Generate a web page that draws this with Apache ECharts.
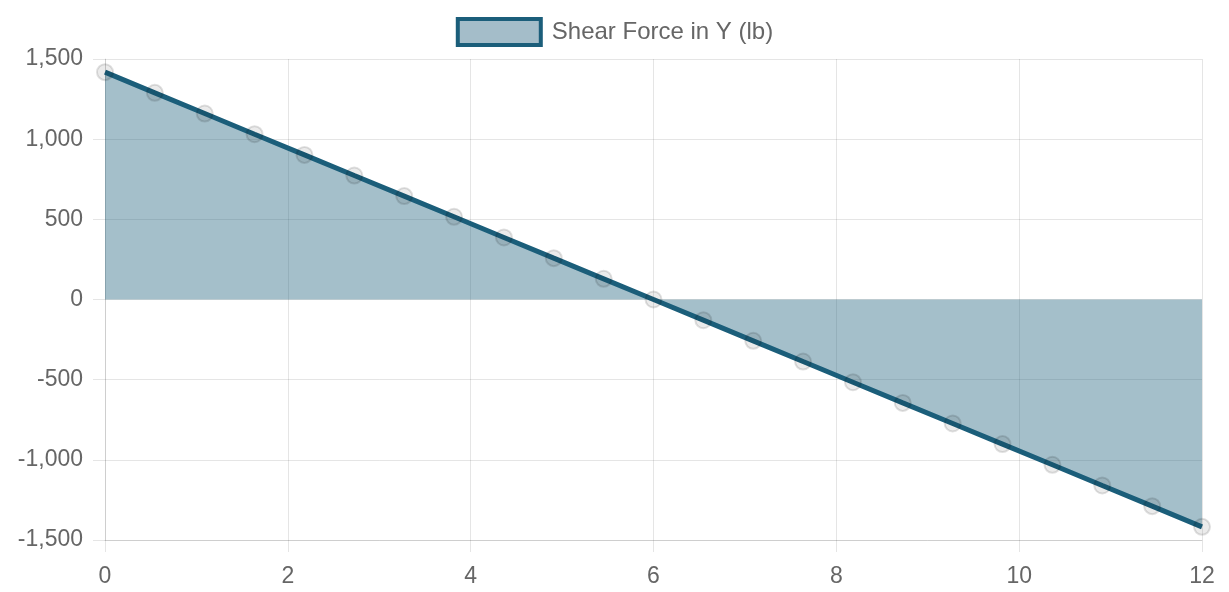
<!DOCTYPE html>
<html>
<head>
<meta charset="utf-8">
<script src="https://cdn.jsdelivr.net/npm/echarts@6/dist/echarts.min.js"></script>
<style>
html,body{margin:0;padding:0;background:#fff;}
#chart{width:1229px;height:592px;}
</style>
</head>
<body>
<div id="chart"></div>
<script>
const seriesName = 'Shear Force in Y (lb)';
const xValues = [0, 0.545, 1.091, 1.636, 2.182, 2.727, 3.273, 3.818, 4.364, 4.909, 5.455, 6, 6.545, 7.091, 7.636, 8.182, 8.727, 9.273, 9.818, 10.364, 10.909, 11.455, 12];
const shearValues = [1418, 1289, 1160, 1031, 902, 773, 645, 516, 387, 258, 129, 0, -129, -258, -387, -516, -645, -773, -902, -1031, -1160, -1289, -1418];

const lineColor = '#1b5e7a';
const fillColor = 'rgba(27,94,122,0.4)';
const gridColor = 'rgba(0,0,0,0.1)';
const textColor = '#666';
const fontFamily = '"Liberation Sans", Arial, Helvetica, sans-serif';

const chart = echarts.init(document.getElementById('chart'), null, {renderer: 'canvas'});
chart.setOption({
  animation: false,
  textStyle: {fontFamily: fontFamily},
  legend: {
    top: 12,
    left: 'center',
    itemWidth: 83,
    itemHeight: 26,
    textStyle: {color: textColor, fontSize: 24, fontFamily: fontFamily, padding: [0, 0, 0, 6]},
    data: [{
      name: seriesName,
      icon: 'rect',
      itemStyle: {color: 'rgba(164,189,201,1)', borderColor: lineColor, borderWidth: 4}
    }]
  },
  grid: {left: 105, right: 27, top: 59, bottom: 52, containLabel: false},
  xAxis: {
    type: 'value',
    min: 0, max: 12, interval: 2,
    axisLine: {show: true, onZero: false, lineStyle: {color: gridColor}},
    axisTick: {show: true, length: 12, lineStyle: {color: gridColor}},
    splitLine: {show: true, lineStyle: {color: gridColor}},
    axisLabel: {color: textColor, fontSize: 23, margin: 25, fontFamily: fontFamily}
  },
  yAxis: {
    type: 'value',
    min: -1500, max: 1500, interval: 500,
    axisLine: {show: true, onZero: false, lineStyle: {color: gridColor}},
    axisTick: {show: true, length: 12, lineStyle: {color: gridColor}},
    splitLine: {show: true, lineStyle: {color: gridColor}},
    axisLabel: {
      color: textColor, fontSize: 23, margin: 22, fontFamily: fontFamily,
      formatter: v => v.toLocaleString('en-US')
    }
  },
  series: [{
    name: seriesName,
    type: 'line',
    data: xValues.map((x, i) => [x, shearValues[i]]),
    showSymbol: true,
    symbol: 'circle',
    symbolSize: 16,
    lineStyle: {color: lineColor, width: 5},
    itemStyle: {color: 'rgba(0,0,0,0.08)', borderColor: 'rgba(0,0,0,0.12)', borderWidth: 2},
    areaStyle: {color: fillColor, opacity: 1, origin: 0},
    z: 2
  }]
});
</script>
</body>
</html>
